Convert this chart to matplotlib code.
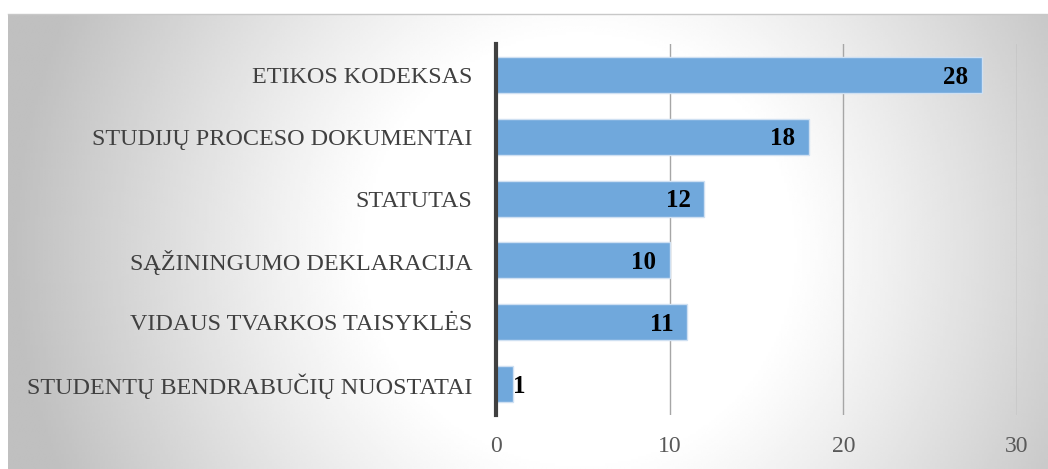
import numpy as np
import matplotlib.pyplot as plt

kategorijos = ["ETIKOS KODEKSAS", "STUDIJŲ PROCESO DOKUMENTAI", "STATUTAS",
               "SĄŽININGUMO DEKLARACIJA", "VIDAUS TVARKOS TAISYKLĖS",
               "STUDENTŲ BENDRABUČIŲ NUOSTATAI"]
reiksmes = [28, 18, 12, 10, 11, 1]
x_ticks = [0, 10, 20, 30]

plt.rcParams['font.family'] = ['Liberation Serif', 'DejaVu Serif']

W, H = 1048, 469
fig = plt.figure(figsize=(W / 100, H / 100), dpi=100)

# fonas su radialiniu gradientu
bg = fig.add_axes([8 / W, 0, 1 - 8 / W, 1 - 14 / H])
xx, yy = np.meshgrid(np.linspace(8, W, 400), np.linspace(14, H, 200))
cx, cy, r = 580, 250, 600
d = np.sqrt((xx - cx) ** 2 + (yy - cy) ** 2) / r
val = 1 - 0.25 * np.clip((d - 0.35) / 0.6, 0, 1) ** 1.1
bg.imshow(val, cmap='gray', vmin=0, vmax=1, aspect='auto',
          extent=[0, 1, 0, 1], origin='upper', interpolation='bilinear')
bg.set_xlim(0, 1)
bg.set_ylim(0, 1)
bg.axis('off')
fig.add_artist(plt.Line2D([8 / W, 1], [1 - 14 / H, 1 - 14 / H],
                          color='#c8c8c8', lw=1))

ax = fig.add_axes([496 / W, 1 - 415 / H, (1017 - 496) / W, (415 - 44) / H])
ax.patch.set_alpha(0)
y = np.arange(len(kategorijos))
ax.barh(y, reiksmes, height=0.58, color='#70a8dc', edgecolor='#cfe0f2',
        linewidth=1, zorder=3)
ax.set_ylim(len(kategorijos) - 0.5, -0.5)
ax.set_xlim(0, 30)
ax.set_yticks(y)
ax.set_yticklabels(kategorijos, fontsize=17.4, color='#404040')
ax.set_xticks(x_ticks)
ax.tick_params(axis='x', length=0, pad=15, labelsize=17, labelcolor='#595959')
ax.tick_params(axis='y', length=0, pad=17)
ax.grid(axis='x', color='#a6a6a6', lw=1, zorder=0)
for s in ['top', 'right', 'bottom']:
    ax.spines[s].set_visible(False)
ax.spines['left'].set_color('#404040')
ax.spines['left'].set_linewidth(3)
ax.spines['left'].set_zorder(4)

for yi, v in zip(y, reiksmes):
    if v >= 3:
        ax.annotate(str(v), (v, yi), xytext=(-10, -1.5), textcoords='offset points',
                    ha='right', va='center', fontsize=18, fontweight='bold',
                    color='black', zorder=5)
    else:
        ax.annotate(str(v), (v, yi), xytext=(0, -1.5), textcoords='offset points',
                    ha='left', va='center', fontsize=18, fontweight='bold',
                    color='black', zorder=5)

fig.savefig('out.png', dpi=100)
